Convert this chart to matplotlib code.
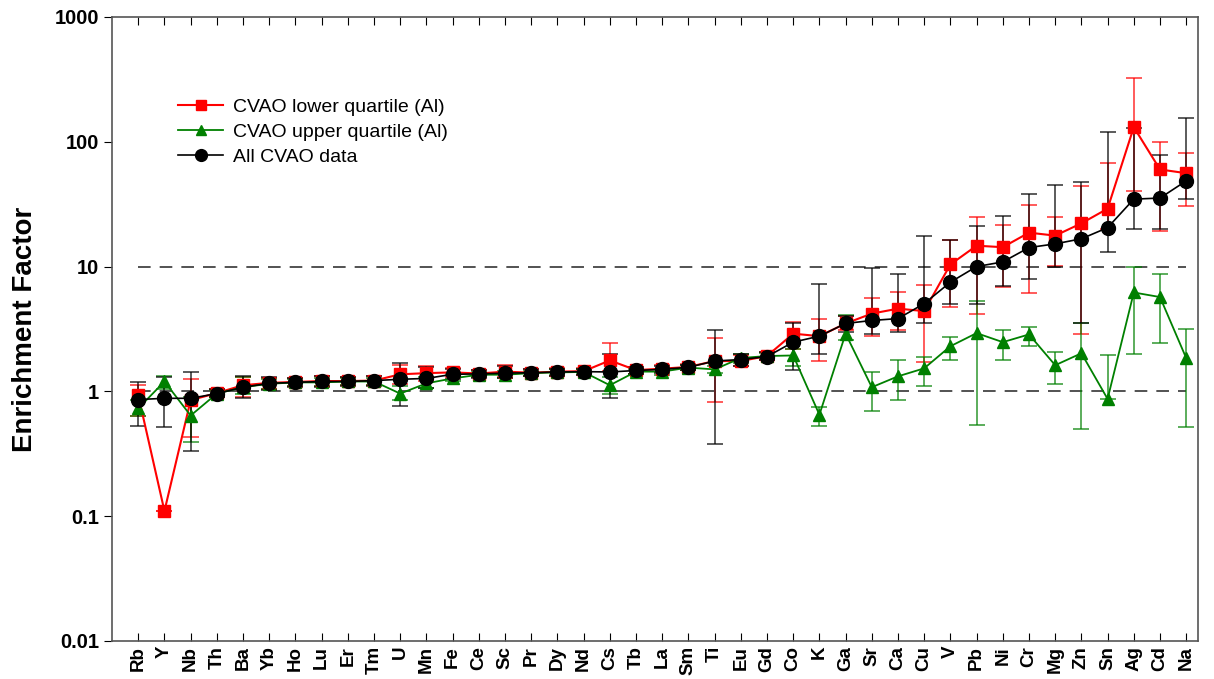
import numpy as np
import matplotlib
matplotlib.use("Agg")
import matplotlib.pyplot as plt

plt.rcParams['font.family'] = ['Liberation Sans', 'DejaVu Sans']

elements = ['Rb', 'Y', 'Nb', 'Th', 'Ba', 'Yb', 'Ho', 'Lu', 'Er', 'Tm', 'U', 'Mn', 'Fe', 'Ce',
            'Sc', 'Pr', 'Dy', 'Nd', 'Cs', 'Tb', 'La', 'Sm', 'Ti', 'Eu', 'Gd', 'Co', 'K', 'Ga',
            'Sr', 'Ca', 'Cu', 'V', 'Pb', 'Ni', 'Cr', 'Mg', 'Zn', 'Sn', 'Ag', 'Cd', 'Na']

# CVAO lower quartile (Al)
low_q = [0.93, 0.11, 0.85, 0.97, 1.12, 1.17, 1.19, 1.21, 1.21, 1.22, 1.37, 1.40, 1.42, 1.39,
         1.44, 1.41, 1.44, 1.45, 1.77, 1.48, 1.52, 1.57, 1.75, 1.75, 1.92, 2.9, 2.77, 3.5,
         4.2, 4.6, 4.4, 10.4, 14.7, 14.3, 18.7, 17.7, 22.2, 29.1, 131, 60, 56]
low_q_min = [0.64, 0.11, 0.43, 0.90, 0.90, 1.05, 1.10, 1.10, 1.12, 1.12, 1.15, 1.20, 1.30, 1.30,
             1.30, 1.32, 1.34, 1.36, 1.45, 1.38, 1.42, 1.48, 0.82, 1.60, 1.80, 2.2, 1.74, 3.1,
             2.77, 3.1, 1.72, 4.7, 4.2, 6.9, 6.1, 10.2, 2.9, 20, 40, 19.2, 30.4]
low_q_max = [1.12, 0.11, 1.25, 1.05, 1.30, 1.28, 1.28, 1.32, 1.30, 1.32, 1.64, 1.60, 1.55, 1.48,
             1.64, 1.50, 1.55, 1.55, 2.46, 1.58, 1.62, 1.66, 2.67, 1.95, 2.05, 3.6, 3.8, 4.0,
             5.65, 6.2, 7.07, 16.4, 25, 21.7, 31, 25, 44.5, 67, 325, 100, 81.6]

# CVAO upper quartile (Al)
up_q = [0.73, 1.2, 0.64, 0.96, 1.08, 1.15, 1.18, 1.18, 1.2, 1.2, 0.96, 1.16, 1.27, 1.36,
        1.36, 1.4, 1.42, 1.43, 1.12, 1.44, 1.44, 1.55, 1.5, 1.85, 1.92, 1.94, 0.65, 2.9,
        1.08, 1.32, 1.53, 2.3, 2.93, 2.48, 2.86, 1.62, 2.02, 0.87, 6.2, 5.7, 1.85]
up_q_min = [0.64, 1.05, 0.39, 0.90, 0.95, 1.05, 1.10, 1.10, 1.12, 1.12, 0.85, 1.06, 1.20, 1.30,
            1.28, 1.34, 1.36, 1.38, 0.95, 1.38, 1.36, 1.48, 1.40, 1.70, 1.82, 1.6, 0.53, 2.6,
            0.69, 0.86, 1.1, 1.8, 0.54, 1.8, 2.3, 1.14, 0.5, 0.87, 2.0, 2.46, 0.52]
up_q_max = [0.85, 1.34, 0.90, 1.02, 1.30, 1.25, 1.25, 1.28, 1.28, 1.28, 1.10, 1.30, 1.38, 1.42,
            1.45, 1.46, 1.50, 1.50, 1.30, 1.50, 1.52, 1.62, 1.60, 2.00, 2.02, 2.2, 0.75, 4.1,
            1.43, 1.77, 1.9, 2.75, 5.27, 3.08, 3.3, 2.05, 3.5, 1.94, 10, 8.8, 3.15]

# All CVAO data
all_d = [0.86, 0.88, 0.88, 0.96, 1.08, 1.16, 1.18, 1.2, 1.2, 1.22, 1.25, 1.27, 1.37, 1.38,
         1.4, 1.41, 1.43, 1.44, 1.43, 1.47, 1.5, 1.56, 1.75, 1.8, 1.9, 2.48, 2.77, 3.5,
         3.7, 3.83, 5.05, 7.5, 10.0, 10.9, 14.2, 15.2, 16.7, 20.5, 34.7, 35.4, 48.6]
all_min = [0.53, 0.52, 0.33, 0.90, 0.88, 1.02, 1.08, 1.08, 1.10, 1.10, 0.76, 1.06, 1.25, 1.28,
           1.28, 1.32, 1.34, 1.36, 0.88, 1.38, 1.40, 1.48, 0.38, 1.60, 1.80, 1.47, 2.0, 3.0,
           2.9, 3.0, 3.5, 5.0, 5.0, 7.0, 8.0, 10.0, 3.5, 13, 20, 20, 35]
all_max = [1.18, 1.30, 1.42, 1.05, 1.32, 1.30, 1.28, 1.32, 1.30, 1.32, 1.70, 1.56, 1.50, 1.48,
           1.60, 1.50, 1.52, 1.52, 2.00, 1.56, 1.60, 1.64, 3.08, 2.00, 2.05, 3.5, 7.2, 4.0,
           9.8, 8.8, 17.5, 16.4, 21, 25.6, 38.3, 45, 48, 120, 130, 78.6, 155]

x = np.arange(len(elements))

fig = plt.figure(figsize=(12.14, 6.79), dpi=100)
ax = fig.add_axes([0.0923, 0.056, 0.8945, 0.919])

ax.hlines([1, 10], 0, len(elements) - 1, colors='#444444', linestyles=(0, (7, 5)),
          linewidth=1.3, zorder=1)

series = [
    (low_q, low_q_min, low_q_max, 'red', 's', 8, 1.5, 'CVAO lower quartile (Al)'),
    (up_q, up_q_min, up_q_max, 'green', '^', 9, 1.3, 'CVAO upper quartile (Al)'),
    (all_d, all_min, all_max, 'black', 'o', 10, 1.2, 'All CVAO data'),
]
for k, (v, lo, hi, c, m, ms, lw, lab) in enumerate(series):
    v = np.array(v)
    yerr = [v - np.array(lo), np.array(hi) - v]
    ax.errorbar(x, v, yerr=yerr, fmt='none', ecolor=c, elinewidth=1.2, capsize=6,
                capthick=1.2, alpha=0.75, zorder=2 + k)
    ax.plot(x, v, color=c, marker=m, markersize=ms, linewidth=lw, label=lab, zorder=5 + k)

ax.set_yscale('log')
ax.set_ylim(0.01, 1000)
ax.set_xlim(-1, 40.45)
ax.set_yticks([0.01, 0.1, 1, 10, 100, 1000])
ax.set_yticklabels(['0.01', '0.1', '1', '10', '100', '1000'], fontweight='bold', fontsize=14.5)
ax.yaxis.set_minor_locator(matplotlib.ticker.NullLocator())
ax.tick_params(axis='y', direction='out', length=6, right=False)

ax.set_xticks(x)
ax.set_xticklabels(elements, rotation=90, fontweight='bold', fontsize=13.5)
ax.tick_params(axis='x', direction='in', length=6, top=True)

for s in ax.spines.values():
    s.set_color('#555555')
    s.set_linewidth(1.2)

ax.set_ylabel('Enrichment Factor', fontsize=20, fontweight='bold')
ax.yaxis.set_label_coords(-0.068, 0.5)

ax.legend(loc='upper left', bbox_to_anchor=(0.054, 0.882), frameon=False, fontsize=14,
          handlelength=2.3, labelspacing=0.38, handletextpad=0.5, markerscale=0.85,
          borderaxespad=0)

fig.savefig('out.png', dpi=100)
